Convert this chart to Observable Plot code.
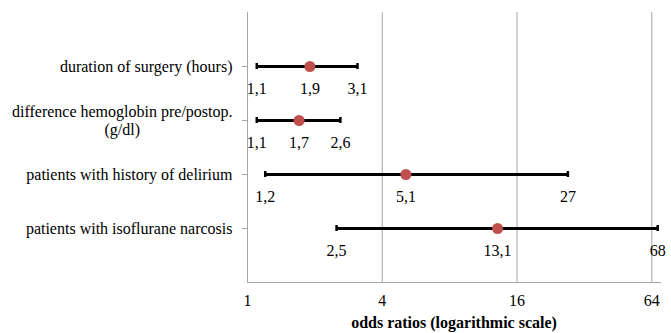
<!DOCTYPE html>
<html><head><meta charset="utf-8">
<script src="https://cdn.jsdelivr.net/npm/d3@7"></script>
<script src="https://cdn.jsdelivr.net/npm/@observablehq/plot@0.6"></script>
<style>body{margin:0;background:#fff}</style>
</head><body><div id="chart"></div>
<script>
const categories = [
  "duration of surgery (hours)",
  "difference hemoglobin pre/postop.\n(g/dl)",
  "patients with history of delirium",
  "patients with isoflurane narcosis"
];
const oddsRatios = [1.9, 1.7, 5.1, 13.1];
const lower = [1.1, 1.1, 1.2, 2.5];
const upper = [3.1, 2.6, 27, 68];
const xTicks = [1, 4, 16, 64];
const xLabel = "odds ratios (logarithmic scale)";

const rows = categories.map((c, i) => ({label: c, or: oddsRatios[i], lo: lower[i], hi: upper[i]}));
const fmt = v => String(v).replace(".", ",");
const valueLabels = rows.flatMap(r => [
  {label: r.label, x: r.lo}, {label: r.label, x: r.or}, {label: r.label, x: r.hi}
]);
const grey = "#a6a6a6";

const chart = Plot.plot({
  width: 671, height: 333,
  marginLeft: 247, marginRight: 11, marginTop: 12, marginBottom: 51,
  style: {fontFamily: "'Liberation Serif', 'Times New Roman', serif", fontSize: "16px", color: "black", background: "white"},
  x: {type: "log", base: 4, domain: [1, 70]},
  y: {type: "band", domain: categories, paddingInner: 0.88, paddingOuter: 0.94},
  marks: [
    Plot.gridX(xTicks.slice(1), {stroke: grey, strokeOpacity: 1}),
    Plot.ruleX([1], {stroke: grey}),
    Plot.frame({anchor: "bottom", stroke: grey}),
    Plot.axisX({ticks: xTicks, tickSize: 0, tickPadding: 12, tickFormat: d => String(d), label: null}),
    Plot.axisY({tickSize: 5, tickPadding: 10, stroke: grey, fill: "black", label: null, lineHeight: 1.1}),
    Plot.ruleY(rows, {y: "label", x1: "lo", x2: "hi", stroke: "black", strokeWidth: 3}),
    Plot.tickX(rows, {y: "label", x: "lo", stroke: "black", strokeWidth: 2.5}),
    Plot.tickX(rows, {y: "label", x: "hi", stroke: "black", strokeWidth: 2.5}),
    Plot.dot(rows, {y: "label", x: "or", r: 5.5, fill: "#c0504d"}),
    Plot.text(valueLabels, {x: "x", y: "label", text: d => fmt(d.x), dy: 22, fill: "black"}),
    Plot.text([xLabel], {frameAnchor: "bottom", dy: 45, fontWeight: "bold", fill: "black", text: d => d})
  ]
});
document.getElementById("chart").appendChild(chart);

// center the multi-line category label as a block (right-aligned to the axis)
chart.querySelectorAll("text").forEach(t => {
  const spans = t.querySelectorAll("tspan");
  if (spans.length > 1) {
    const w = t.getBBox().width;
    t.setAttribute("text-anchor", "middle");
    spans.forEach(s => {
      const x0 = parseFloat(s.getAttribute("x") || "0");
      s.setAttribute("x", x0 - w / 2);
    });
  }
});
</script>
</body></html>
